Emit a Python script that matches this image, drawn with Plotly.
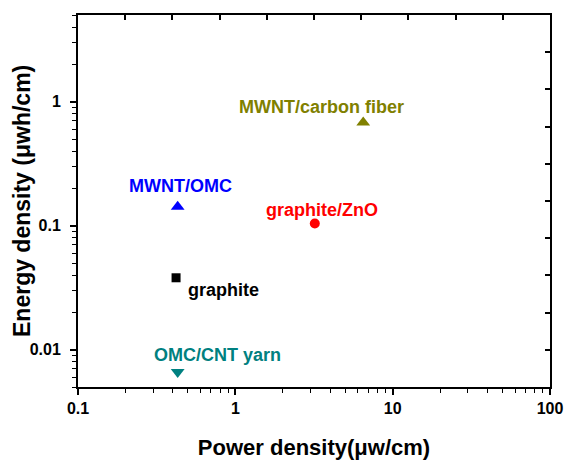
import math
import plotly.graph_objects as go

# Ragone-style comparison of fiber supercapacitor electrodes
materials = ["MWNT/carbon fiber", "MWNT/OMC", "graphite/ZnO", "graphite", "OMC/CNT yarn"]
power_density = [6.5, 0.43, 3.2, 0.42, 0.43]        # μW/cm
energy_density = [0.68, 0.142, 0.104, 0.038, 0.0066]  # μWh/cm
marker_symbols = ["triangle-up", "triangle-up", "circle", "square", "triangle-down"]
marker_colors = ["#808000", "#0000FF", "#FF0000", "#000000", "#008080"]
marker_sizes = [12, 12, 10, 9, 12]
# label offsets from each point, in pixels
label_dx = [-42, 3, 7, 47, 40]
label_dy = [15, 21, 14, -12, 17]

x_tick_vals = [0.1, 1, 10, 100]
x_tick_text = ["0.1", "1", "10", "100"]
y_tick_vals = [0.01, 0.1, 1]
y_tick_text = ["0.01", "0.1", "1"]

FONT = "Liberation Sans, Arial, sans-serif"

fig = go.Figure()

for name, px, ey, sym, col, sz in zip(materials, power_density, energy_density,
                                     marker_symbols, marker_colors, marker_sizes):
    fig.add_trace(go.Scatter(
        x=[px], y=[ey], mode="markers", name=name,
        marker=dict(symbol=sym, color=col, size=sz, line=dict(width=0)),
        showlegend=False,
    ))

# empty trace carrying the evenly ticked mirror axes (top / right)
fig.add_trace(go.Scatter(x=[], y=[], xaxis="x2", yaxis="y2", showlegend=False))

for name, px, ey, col, dx, dy in zip(materials, power_density, energy_density,
                                     marker_colors, label_dx, label_dy):
    fig.add_annotation(
        x=math.log10(px), y=math.log10(ey), xref="x", yref="y",
        text=name, showarrow=False, xshift=dx, yshift=dy,
        font=dict(family=FONT, size=18, color=col, weight="bold"),
    )

# vertical axis title, placed just left of the tick labels
fig.add_annotation(
    x=0, y=0.5, xref="paper", yref="paper", xshift=-56,
    text="Energy density (μwh/cm)", textangle=-90, showarrow=False,
    xanchor="center", yanchor="middle",
    font=dict(family=FONT, size=23, weight="bold", color="black"),
)

axis_common = dict(
    showline=True, linecolor="black", linewidth=2,
    showgrid=False, zeroline=False, automargin=False,
)

fig.update_layout(
    width=566, height=461,
    margin=dict(l=78, r=16, t=15, b=74),
    paper_bgcolor="white", plot_bgcolor="white",
    font=dict(family=FONT, color="black"),
    xaxis=dict(
        type="log", range=[-1, 2], tickmode="array",
        tickvals=x_tick_vals, ticktext=x_tick_text, mirror=True,
        ticks="outside", ticklen=6, tickwidth=1.5, tickcolor="black",
        minor=dict(ticks="outside", ticklen=4, tickwidth=1, tickcolor="black",
                   tickvals=[m * d for d in (0.1, 1, 10) for m in range(2, 10)]),
        tickfont=dict(family=FONT, size=16, weight="bold"),
        title=dict(text="Power density(μw/cm)", standoff=23,
                   font=dict(family=FONT, size=22, weight="bold")),
        **axis_common,
    ),
    yaxis=dict(
        type="log", range=[math.log10(0.005), math.log10(5)], tickmode="array",
        tickvals=y_tick_vals, ticktext=y_tick_text, mirror=True,
        ticks="outside", ticklen=6, tickwidth=1.5, tickcolor="black",
        ticklabelstandoff=6,
        minor=dict(ticks="outside", ticklen=4, tickwidth=1, tickcolor="black",
                   tickvals=[m * d for d in (0.001, 0.01, 0.1, 1) for m in range(2, 10)]),
        tickfont=dict(family=FONT, size=16, weight="bold"),
        **axis_common,
    ),
    xaxis2=dict(
        overlaying="x", side="top", anchor="y2", range=[0, 10], dtick=1,
        ticks="inside", ticklen=5, tickwidth=1.5, tickcolor="black",
        showticklabels=False, **axis_common,
    ),
    yaxis2=dict(
        overlaying="y", side="right", anchor="x2", range=[0, 10], dtick=1,
        ticks="inside", ticklen=5, tickwidth=1.5, tickcolor="black",
        showticklabels=False, **axis_common,
    ),
)

fig.write_html("out.html")
